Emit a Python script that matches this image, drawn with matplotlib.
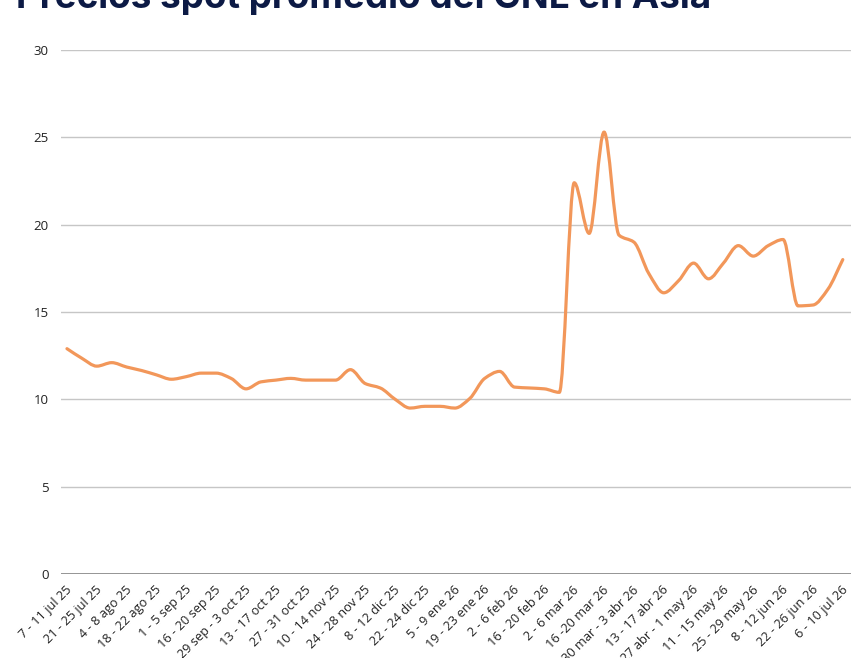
import numpy as np
import matplotlib
matplotlib.use("Agg")
import matplotlib.pyplot as plt
from matplotlib.path import Path
from matplotlib.patches import PathPatch
from matplotlib.transforms import ScaledTranslation

title = "Precios spot promedio del GNL en Asia"

tick_labels = [
    "7 - 11 jul 25", "21 - 25 jul 25", "4 - 8 ago 25", "18 - 22 ago 25",
    "1 - 5 sep 25", "16 - 20 sep 25", "29 sep - 3 oct 25", "13 - 17 oct 25",
    "27 - 31 oct 25", "10 - 14 nov 25", "24 - 28 nov 25", "8 - 12 dic 25",
    "22 - 24 dic 25", "5 - 9 ene 26", "19 - 23 ene 26", "2 - 6 feb 26",
    "16 - 20 feb 26", "2 - 6 mar 26", "16 -20 mar 26", "30 mar - 3 abr 26",
    "13 - 17 abr 26", "27 abr - 1 may 26", "11 - 15 may 26", "25 - 29 may 26",
    "8 - 12 jun 26", "22 - 26 jun 26", "6 - 10 jul 26",
]

# weekly average spot prices (USD/MMBtu)
prices = [
    12.9, 12.35, 11.9, 12.1, 11.85, 11.65, 11.4, 11.15, 11.3, 11.5,
    11.5, 11.2, 10.6, 11.0, 11.1, 11.2, 11.1, 11.1, 11.1, 11.7,
    10.9, 10.65, 10.0, 9.5, 9.6, 9.6, 9.5, 10.05, 11.2, 11.6,
    10.7, 10.65, 10.6, 10.4, 22.4, 19.5, 25.3, 19.4, 19.0, 17.2,
    16.1, 16.8, 17.8, 16.9, 17.8, 18.8, 18.2, 18.8, 19.15, 15.35,
    15.4, 16.3, 18.0,
]

x = np.arange(len(prices), dtype=float)
y = np.array(prices, dtype=float)

# monotone cubic (Fritsch-Carlson) tangents for a smooth line
h = np.diff(x)
d = np.diff(y) / h
m = np.zeros_like(y)
m[0], m[-1] = d[0], d[-1]
for i in range(1, len(y) - 1):
    if d[i - 1] * d[i] <= 0:
        m[i] = 0.0
    else:
        w1 = 2 * h[i] + h[i - 1]
        w2 = h[i] + 2 * h[i - 1]
        m[i] = (w1 + w2) / (w1 / d[i - 1] + w2 / d[i])

verts = [(x[0], y[0])]
codes = [Path.MOVETO]
for i in range(len(y) - 1):
    hh = h[i]
    verts += [(x[i] + hh / 3, y[i] + m[i] * hh / 3),
              (x[i + 1] - hh / 3, y[i + 1] - m[i + 1] * hh / 3),
              (x[i + 1], y[i + 1])]
    codes += [Path.CURVE4] * 3

fig = plt.figure(figsize=(8.64, 6.58), dpi=100)
ax = fig.add_axes([61 / 864, 1 - 574 / 658, 790 / 864, 524 / 658])

tick_font = ["Open Sans", "DejaVu Sans"]

for v in range(5, 31, 5):
    ax.axhline(v, color="#c6c6c6", lw=1.0, zorder=1)
ax.axhline(0, color="#8c8c8c", lw=1.3, zorder=1)

ax.add_patch(PathPatch(Path(verts, codes), fill=False, edgecolor="#f2975a",
                       lw=2.3, capstyle="round", joinstyle="round", zorder=3))

ax.set_xlim(-0.4, 52.55)
ax.set_ylim(0, 30)
ax.set_yticks(range(0, 31, 5))
ax.set_yticklabels([str(v) for v in range(0, 31, 5)], fontfamily=tick_font,
                   fontsize=9.5, color="#222222")
ax.set_xticks(x[::2])
ax.set_xticklabels(tick_labels, rotation=45, ha="right", va="center",
                   rotation_mode="anchor", fontfamily=tick_font,
                   fontsize=9.2, color="#222222")
ax.tick_params(axis="both", length=0)
ax.tick_params(axis="y", pad=9)
ax.tick_params(axis="x", pad=10)
shift = ScaledTranslation(3 / 100, 0, fig.dpi_scale_trans)
for lab in ax.get_xticklabels():
    lab.set_transform(lab.get_transform() + shift)
for s in ax.spines.values():
    s.set_visible(False)

fig.text(16 / 864, 1 - 8 / 658, title, ha="left", va="baseline",
         fontsize=26.5, fontweight="bold", color="#0c1a45",
         fontfamily=["Liberation Sans Narrow", "DejaVu Sans Condensed", "Inter", "DejaVu Sans"])

fig.savefig("out.png", dpi=100)
